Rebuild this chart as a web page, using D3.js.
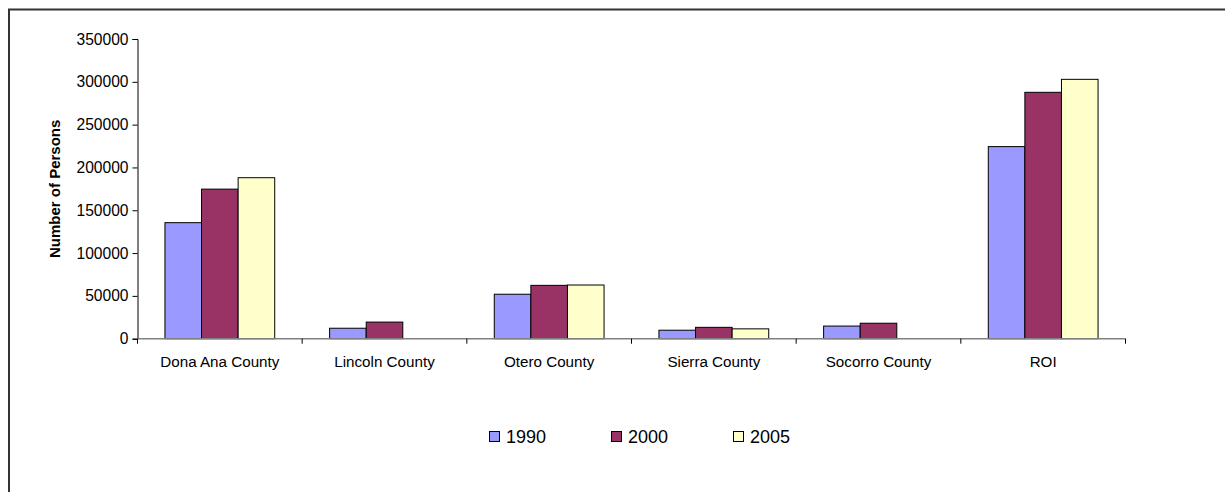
<!DOCTYPE html>
<html>
<head>
<meta charset="utf-8">
<script src="https://cdn.jsdelivr.net/npm/d3@7"></script>
<style>
  html, body { margin: 0; padding: 0; background: #fff; }
  svg { display: block; font-family: "Liberation Sans", Arial, sans-serif; }
</style>
</head>
<body>
<svg id="chart" width="1225" height="492"></svg>
<script>
// Population by county, 1990 / 2000 / 2005
const categories = ["Dona Ana County", "Lincoln County", "Otero County", "Sierra County", "Socorro County", "ROI"];
const seriesNames = ["1990", "2000", "2005"];
const values1990 = [135510, 12219, 51928, 9912, 14764, 224333];
const values2000 = [174682, 19411, 62298, 13270, 18078, 287739];
const values2005 = [188000, null, 62700, 11500, null, 302900];
const yTicks = [0, 50000, 100000, 150000, 200000, 250000, 300000, 350000];
const colors = ["#9999FF", "#993366", "#FFFFCC"];

const seriesValues = [values1990, values2000, values2005];

const svg = d3.select("#chart");

// outer frame (left and top edges visible, frame continues past the page)
svg.append("rect")
  .attr("x", 9).attr("y", 9.5)
  .attr("width", 1300).attr("height", 600)
  .attr("fill", "none")
  .attr("stroke", "#333")
  .attr("stroke-width", 2);

const plot = { left: 137.5, right: 1125.5, top: 39, bottom: 338.7 };

const x = d3.scaleBand()
  .domain(categories)
  .range([plot.left, plot.right])
  .paddingInner(0).paddingOuter(0);

const y = d3.scaleLinear()
  .domain([0, 350000])
  .range([plot.bottom, plot.top]);

// bars: gap width 150% of bar width
const bw = x.bandwidth() / 4.5;
const groupOffset = (x.bandwidth() - 3 * bw) / 2;

const rows = [];
categories.forEach((c, i) => {
  seriesNames.forEach((s, j) => {
    const v = seriesValues[j][i];
    if (v != null) rows.push({ cat: c, series: j, value: v });
  });
});

svg.append("g").selectAll("rect")
  .data(rows)
  .join("rect")
  .attr("x", d => x(d.cat) + groupOffset + d.series * bw)
  .attr("y", d => y(d.value))
  .attr("width", bw)
  .attr("height", d => y(0) - y(d.value))
  .attr("fill", d => colors[d.series])
  .attr("stroke", "#000")
  .attr("stroke-width", 1);

// y axis
const yAxis = d3.axisLeft(y)
  .tickValues(yTicks)
  .tickFormat(d3.format("d"))
  .tickSize(5)
  .tickPadding(4);

const gy = svg.append("g")
  .attr("transform", `translate(${plot.left},0)`)
  .call(yAxis);
gy.select(".domain").attr("stroke", "#000");
gy.selectAll(".tick line").attr("stroke", "#000");
gy.selectAll(".tick text")
  .attr("fill", "#000")
  .style("font-size", "15.6px");

// x axis with ticks at category boundaries
const gx = svg.append("g")
  .attr("transform", `translate(0,${plot.bottom})`);
gx.append("line")
  .attr("x1", plot.left).attr("x2", plot.right)
  .attr("y1", 0).attr("y2", 0)
  .attr("stroke", "#808080").attr("stroke-width", 1.5);
const boundaries = categories.map(c => x(c)).concat([plot.right]);
gx.selectAll("line.tk")
  .data(boundaries)
  .join("line")
  .attr("class", "tk")
  .attr("x1", d => d).attr("x2", d => d)
  .attr("y1", 0).attr("y2", 5)
  .attr("stroke", "#000");
gx.selectAll("text")
  .data(categories)
  .join("text")
  .attr("x", d => x(d) + x.bandwidth() / 2)
  .attr("y", 28.5)
  .attr("text-anchor", "middle")
  .style("font-size", "15.2px")
  .attr("fill", "#000")
  .text(d => d);

// y axis title
svg.append("text")
  .attr("transform", `translate(60,${(plot.top + plot.bottom) / 2}) rotate(-90)`)
  .attr("text-anchor", "middle")
  .style("font-size", "15px")
  .style("font-weight", "bold")
  .attr("fill", "#000")
  .text("Number of Persons");

// legend
const legendX = d3.scaleOrdinal()
  .domain(seriesNames)
  .range([489, 611, 733]);

const lg = svg.append("g").selectAll("g")
  .data(seriesNames)
  .join("g")
  .attr("transform", d => `translate(${legendX(d)},431)`);
lg.append("rect")
  .attr("x", 0.5).attr("y", 0.5)
  .attr("width", 10).attr("height", 10)
  .attr("fill", (d, i) => colors[i])
  .attr("stroke", "#000");
lg.append("text")
  .attr("x", 17).attr("y", 11.5)
  .style("font-size", "18px")
  .attr("fill", "#000")
  .text(d => d);
</script>
</body>
</html>
